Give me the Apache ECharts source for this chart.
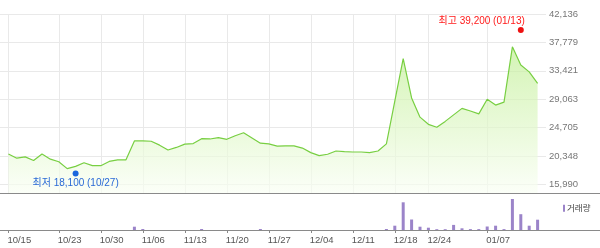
<!DOCTYPE html>
<html><head><meta charset="utf-8">
<script src="https://cdn.jsdelivr.net/npm/echarts@6/dist/echarts.min.js"></script>
<style>html,body{margin:0;padding:0;background:#fff}#c{width:600px;height:248px}</style>
</head><body><div id="c"></div>
<script>
const dates = ['10/15','10/16','10/17','10/18','10/21','10/22','10/23','10/24','10/25','10/28','10/29','10/30','10/31','11/01','11/04','11/05','11/06','11/07','11/08','11/11','11/12','11/13','11/14','11/15','11/18','11/19','11/20','11/21','11/22','11/25','11/26','11/27','11/28','11/29','12/02','12/03','12/04','12/05','12/06','12/09','12/10','12/11','12/12','12/13','12/16','12/17','12/18','12/19','12/20','12/23','12/24','12/26','12/27','12/30','01/02','01/03','01/06','01/07','01/08','01/09','01/10','01/13','01/14','01/15'];
const prices = [20650,20000,20200,19650,20650,19850,19450,18400,18750,19300,18850,18850,19500,19750,19750,22650,22650,22600,22000,21250,21650,22150,22250,23000,22950,23150,22900,23450,23900,23100,22300,22200,21850,21900,21900,21550,20850,20400,20600,21100,21000,20950,20950,20850,21100,22200,28750,35300,29250,26300,25200,24750,25650,26650,27650,27250,26800,29050,28150,28600,37100,34300,33250,31500];
const volumes = [0,0,0,0,0,0,0,0,0,0,0,0,0,0,0,330,100,0,0,0,0,0,0,100,0,0,0,0,0,0,100,0,0,0,0,0,0,0,0,0,0,0,0,0,0,100,430,2770,1050,330,230,80,80,510,170,90,90,350,430,90,3100,1580,430,1030];
const yTicks = [15990,20348,24705,29063,33421,37779,42136];
const xLabels = ['10/15','10/23','10/30','11/06','11/13','11/20','11/27','12/04','12/11','12/18','12/24','01/07'];
const lowPoint = {date:'10/25', value:18100, text:'최저 18,100 (10/27)'};
const highPoint = {date:'01/13', value:39200, text:'최고 39,200 (01/13)'};
const volumeName = '거래량';

const categories = [' '].concat(dates, ['  ']);
const showAt = (i, v) => xLabels.indexOf(v) >= 0;
const FONT = "'Liberation Sans', 'Noto Sans CJK KR', sans-serif";

const chart = echarts.init(document.getElementById('c'), null, {renderer:'canvas'});
chart.setOption({
  animation:false,
  textStyle:{fontFamily:FONT},
  grid:[
    {left:0, top:14, width:546, height:179},
    {left:0, top:193, width:546, height:37}
  ],
  legend:{
    data:[{name:volumeName, icon:'rect'}],
    left:558, top:199, itemWidth:2, itemHeight:7, itemGap:2,
    textStyle:{fontSize:8.5, color:'#444', fontFamily:FONT, padding:[0,0,0,-3]}
  },
  xAxis:[
    {type:'category', gridIndex:0, data:categories, boundaryGap:false,
     axisLine:{show:false}, axisTick:{show:false}, axisLabel:{show:false},
     splitLine:{show:true, interval:showAt, lineStyle:{color:'#e9e9e9', width:1}}},
    {type:'category', gridIndex:1, data:categories, boundaryGap:false,
     axisLine:{show:false},
     axisTick:{show:true, interval:showAt, length:3, lineStyle:{color:'#888'}},
     axisLabel:{show:true, interval:showAt, margin:6, align:'left', padding:[0,0,0,-1], fontSize:9.5, color:'#555', fontFamily:FONT},
     splitLine:{show:false}}
  ],
  yAxis:[
    {type:'value', gridIndex:0, position:'right', min:14655, max:42136,
     axisLine:{show:false},
     axisTick:{show:false, customValues:yTicks},
     axisLabel:{show:true, customValues:yTicks, margin:3, fontSize:9.5, color:'#777', fontFamily:FONT,
       formatter:v=>Math.round(v).toLocaleString('en-US')},
     splitLine:{show:true, lineStyle:{color:'#e9e9e9', width:1}}},
    {type:'value', gridIndex:1, min:0, max:3700, show:false, splitLine:{show:false}}
  ],
  graphic:[
    {type:'line', shape:{x1:0,y1:193.5,x2:600,y2:193.5}, style:{stroke:'#8a8a8a', lineWidth:1}, z:100},
    {type:'line', shape:{x1:0,y1:230.5,x2:600,y2:230.5}, style:{stroke:'#8a8a8a', lineWidth:1}, z:100}
  ],
  series:[
    {type:'line', xAxisIndex:0, yAxisIndex:0, data:prices.map((v,i)=>[i+1,v]),
     symbol:'none', z:2, lineStyle:{color:'#78cf42', width:1.2},
     areaStyle:{origin:'start', color:new echarts.graphic.LinearGradient(0,0,0,1,[{offset:0,color:'#c1ee95'},{offset:1,color:'#f9fef4'}])}},
    {type:'scatter', xAxisIndex:0, yAxisIndex:0, z:20,
     data:[[dates.indexOf(lowPoint.date)+1, lowPoint.value]],
     symbolSize:6, symbolOffset:[0,3], itemStyle:{color:'#1a66dd', opacity:1},
     label:{show:true, position:'bottom', distance:2, formatter:lowPoint.text, color:'#2a6ad6', fontSize:10, fontFamily:FONT}},
    {type:'scatter', xAxisIndex:0, yAxisIndex:0, z:20,
     data:[[dates.indexOf(highPoint.date)+1, highPoint.value]],
     symbolSize:6, symbolOffset:[0,-3], itemStyle:{color:'#ee1111', opacity:1},
     label:{show:true, position:'top', distance:1, align:'right', offset:[4,0], formatter:highPoint.text, color:'#ff1a1a', fontSize:10, fontFamily:FONT}},
    {type:'bar', name:volumeName, xAxisIndex:1, yAxisIndex:1, data:volumes.map((v,i)=>[i+1,v]),
     barWidth:3, itemStyle:{color:'#9b84c9'}}
  ]
});
</script>
</body></html>
